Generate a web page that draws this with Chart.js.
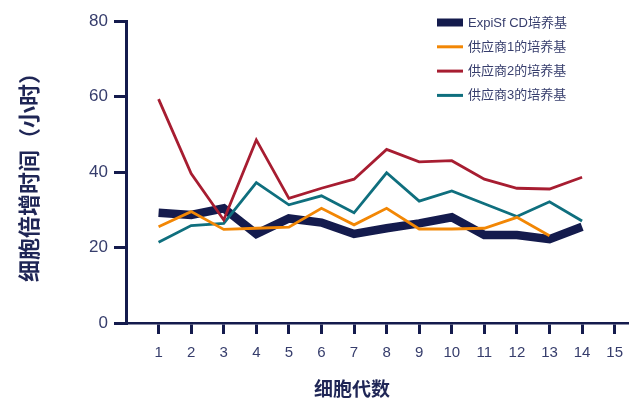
<!DOCTYPE html>
<html><head><meta charset="utf-8">
<script src="https://cdn.jsdelivr.net/npm/chart.js@4/dist/chart.umd.min.js"></script>
<style>html,body{margin:0;padding:0;background:#fff}#wrap{width:633px;height:402px}</style>
</head><body><div id="wrap"><canvas id="c" width="633" height="402"></canvas></div>
<script>
const passages = [1,2,3,4,5,6,7,8,9,10,11,12,13,14];
const xTickValues = [1,2,3,4,5,6,7,8,9,10,11,12,13,14,15];
const yTickValues = [0,20,40,60,80];
const seriesNames = ['ExpiSf CD培养基','供应商1的培养基','供应商2的培养基','供应商3的培养基'];
const expiSf  = [29.2,28.6,30.4,23.6,27.7,26.6,23.6,25.1,26.4,28.0,23.3,23.3,22.2,25.5];
const vendor1 = [25.5,29.5,24.8,25.1,25.4,30.4,26.0,30.4,24.9,24.9,25.1,28.0,23.1];
const vendor2 = [59.3,39.6,27.3,48.5,33.0,35.7,38.1,46.0,42.7,43.0,38.1,35.7,35.5,38.6];
const vendor3 = [21.4,25.8,26.4,37.2,31.3,33.7,29.2,39.8,32.3,35.0,31.6,28.2,32.1,27.0];
const xTitle = '细胞代数';
const yTitle = '细胞倍增时间（小时）';

const NAVY = '#141b4d';
const colors = [NAVY, '#f28705', '#a71d31', '#0f6f7e'];
const widths = [8.5, 2.8, 2.8, 2.8];
const orders = [10, 1, 2, 3];
const seriesValues = [expiSf, vendor1, vendor2, vendor3];
const TEXT = '#363d6c';
const TITLE = '#1f2656';

const datasets = seriesValues.map((vals, i) => ({
  label: seriesNames[i],
  data: vals.map((v, j) => ({x: passages[j], y: v})),
  borderColor: colors[i],
  backgroundColor: colors[i],
  borderWidth: widths[i],
  pointRadius: 0,
  tension: 0,
  fill: false,
  order: orders[i]
}));

const legendPlugin = {
  id: 'customLegend',
  afterDraw(chart) {
    const ctx = chart.ctx;
    ctx.save();
    chart.data.datasets.forEach((ds, i) => {
      const y = 22.5 + i * 24.3;
      ctx.strokeStyle = ds.borderColor;
      ctx.lineWidth = i === 0 ? 8 : 3;
      ctx.lineCap = 'butt';
      ctx.beginPath();
      ctx.moveTo(437, y);
      ctx.lineTo(463, y);
      ctx.stroke();
      ctx.fillStyle = TEXT;
      ctx.font = '13px "Liberation Sans", "Noto Sans CJK SC", sans-serif';
      ctx.textBaseline = 'middle';
      ctx.textAlign = 'left';
      ctx.fillText(ds.label, 468, y + 0.5);
    });
    ctx.fillStyle = TITLE;
    ctx.font = 'bold 19px "Noto Sans CJK SC", sans-serif';
    ctx.textAlign = 'center';
    ctx.textBaseline = 'middle';
    ctx.fillText(xTitle, 352, 389);
    ctx.restore();
  }
};

new Chart(document.getElementById('c'), {
  type: 'line',
  data: { datasets },
  options: {
    responsive: false,
    animation: false,
    devicePixelRatio: 1,
    layout: { padding: { top: 21, left: 0, right: 0, bottom: 0 } },
    plugins: { legend: { display: false }, tooltip: { enabled: false } },
    scales: {
      x: {
        type: 'linear', min: 0, max: 15.4,
        afterBuildTicks: s => { s.ticks = xTickValues.map(v => ({value: v})); },
        afterFit: s => { s.height = 79; },
        border: { display: true, color: NAVY, width: 2.5 },
        grid: { drawOnChartArea: false, drawTicks: true, tickLength: 11, color: NAVY, lineWidth: 3 },
        ticks: { padding: 10, autoSkip: false, maxRotation: 0, color: TEXT,
                 font: { family: '"Liberation Sans", sans-serif', size: 15 } },
        title: { display: false }
      },
      y: {
        min: 0, max: 80,
        afterBuildTicks: s => { s.ticks = yTickValues.map(v => ({value: v})); },
        afterFit: s => { s.width = 126; },
        border: { display: true, color: NAVY, width: 3 },
        grid: { drawOnChartArea: false, drawTicks: true, tickLength: 12, color: NAVY, lineWidth: 3 },
        ticks: { padding: 6, color: TEXT, font: { family: '"Liberation Sans", sans-serif', size: 17 } },
        title: { display: true, text: yTitle, color: TITLE, padding: { top: 15, bottom: 0 },
                 font: { family: '"Noto Sans CJK SC", sans-serif', size: 22, weight: 'bold' } }
      }
    }
  },
  plugins: [legendPlugin]
});
</script>
</body></html>
